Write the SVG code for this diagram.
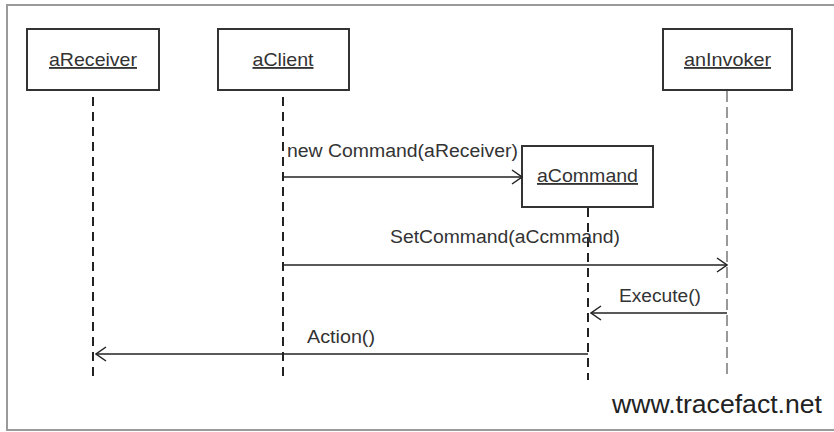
<svg xmlns="http://www.w3.org/2000/svg" width="834" height="432" viewBox="0 0 834 432">
  <style>
    .frame { fill: none; stroke: #9a9a9a; stroke-width: 2; }
    .box { fill: #ffffff; stroke: #333333; stroke-width: 2; }
    .name { font-family: "Liberation Sans", Arial, sans-serif; font-size: 18.5px; fill: #333333; text-anchor: middle; text-decoration: underline; }
    .life { stroke: #222222; stroke-width: 2; stroke-dasharray: 9 6; fill: none; }
    .life-thin { stroke: #555555; stroke-width: 1.2; stroke-dasharray: 11 5; fill: none; }
    .msg { stroke: #222222; stroke-width: 1.5; fill: none; }
    .label { font-family: "Liberation Sans", Arial, sans-serif; font-size: 18px; fill: #333333; }
    .site { font-family: "Liberation Sans", Arial, sans-serif; font-size: 26px; fill: #222222; }
  </style>
  <defs>
    <marker id="open" viewBox="0 0 12 16" refX="11" refY="8" markerWidth="12" markerHeight="16" markerUnits="userSpaceOnUse" orient="auto">
      <path d="M1 1 L11 8 L1 15" fill="none" stroke="#222222" stroke-width="1.5"/>
    </marker>
  </defs>

  <rect width="834" height="432" fill="#ffffff"/>
  <!-- outer frame: top, left, bottom edges -->
  <path class="frame" d="M834 5 H7 V430 H834"/>

  <g id="aReceiver">
    <rect class="box" x="27" y="29" width="132" height="61"/>
    <text class="name" x="93" y="66" textLength="88" lengthAdjust="spacingAndGlyphs">aReceiver</text>
    <line class="life" x1="93" y1="97" x2="93" y2="380"/>
  </g>

  <g id="aClient">
    <rect class="box" x="218" y="29" width="131" height="61"/>
    <text class="name" x="283" y="66" textLength="61" lengthAdjust="spacingAndGlyphs">aClient</text>
    <line class="life" x1="283" y1="97" x2="283" y2="380"/>
  </g>

  <g id="anInvoker">
    <rect class="box" x="663" y="29" width="129" height="61"/>
    <text class="name" x="727.5" y="66" textLength="87" lengthAdjust="spacingAndGlyphs">anInvoker</text>
    <line class="life-thin" x1="727" y1="91" x2="727" y2="376"/>
  </g>

  <g id="aCommand">
    <rect class="box" x="522" y="146" width="131" height="61"/>
    <text class="name" x="587.5" y="182" textLength="101" lengthAdjust="spacingAndGlyphs">aCommand</text>
    <line class="life" x1="588" y1="208" x2="588" y2="380"/>
  </g>

  <g id="connectors">
    <line class="msg" x1="283" y1="177" x2="522" y2="177" marker-end="url(#open)"/>
    <text class="label" x="287" y="157" textLength="231" lengthAdjust="spacingAndGlyphs">new Command(aReceiver)</text>

    <line class="msg" x1="283" y1="265" x2="727" y2="265" marker-end="url(#open)"/>
    <text class="label" x="390" y="243" textLength="230" lengthAdjust="spacingAndGlyphs">SetCommand(aCcmmand)</text>

    <line class="msg" x1="727" y1="313" x2="591" y2="313" marker-end="url(#open)"/>
    <text class="label" x="619" y="302" textLength="82" lengthAdjust="spacingAndGlyphs">Execute()</text>

    <line class="msg" x1="588" y1="354" x2="96" y2="354" marker-end="url(#open)"/>
    <text class="label" x="307" y="343" textLength="68" lengthAdjust="spacingAndGlyphs">Action()</text>
  </g>

  <text class="site" x="612" y="413" textLength="210" lengthAdjust="spacingAndGlyphs">www.tracefact.net</text>
</svg>
